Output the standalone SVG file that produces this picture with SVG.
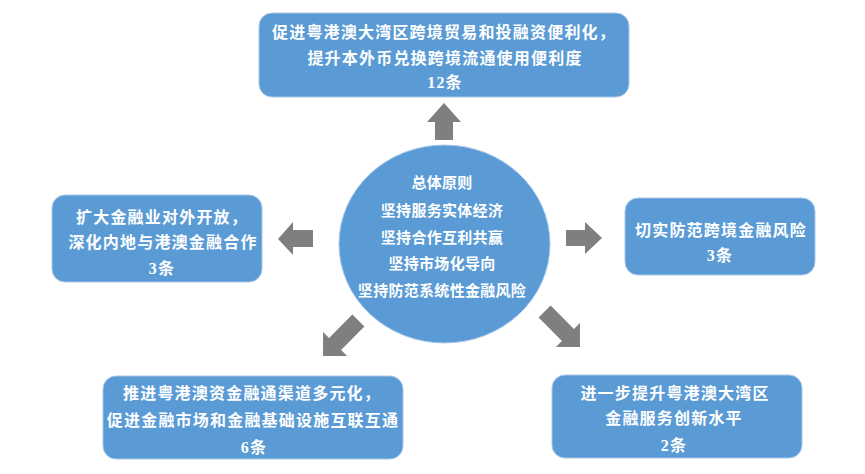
<svg xmlns="http://www.w3.org/2000/svg" width="865" height="474" viewBox="0 0 865 474">
<style>
.box{fill:#5b9bd5;stroke:#a9c8ea;stroke-width:1}
.arrow{fill:#7f7f7f}
.t{fill:#ffffff;font-family:"Liberation Serif","Noto Sans CJK SC",serif;font-weight:bold;font-size:16px;letter-spacing:1.2px;text-anchor:middle}
.c{font-size:15px;letter-spacing:0.3px}
</style>
<rect width="865" height="474" fill="#ffffff"/>
<g id="connectors">
<polygon class="arrow" points="444,103 461,122 453,122 453,140 435,140 435,122 427,122"/>
<polygon class="arrow" points="278,239 293,222 293,230 313,230 313,247 293,247 293,255"/>
<polygon class="arrow" points="602,238 585,222 585,230 566,230 566,246 585,246 585,254"/>
<polygon class="arrow" transform="translate(358.4,320.6) rotate(135)" points="0,-8.5 33,-8.5 33,-17 50,0 33,17 33,8.5 0,8.5"/>
<polygon class="arrow" transform="translate(544.6,311.6) rotate(45)" points="0,-8.5 33,-8.5 33,-17 50,0 33,17 33,8.5 0,8.5"/>
</g>
<g id="center">
<ellipse cx="444.5" cy="244" rx="105.5" ry="99" fill="#5b9bd5" stroke="#a9c8ea" stroke-width="1"/>
<text class="t c" x="442" y="187.5">总体原则</text>
<text class="t c" x="442" y="215.5">坚持服务实体经济</text>
<text class="t c" x="442" y="242.5">坚持合作互利共赢</text>
<text class="t c" x="442" y="268.5">坚持市场化导向</text>
<text class="t c" x="442" y="295.5">坚持防范系统性金融风险</text>
</g>
<g id="top">
<rect class="box" x="259" y="13" width="370" height="84" rx="13"/>
<text class="t" x="444" y="38">促进粤港澳大湾区跨境贸易和投融资便利化，</text>
<text class="t" x="445" y="64">提升本外币兑换跨境流通使用便利度</text>
<text class="t" x="445" y="88">12条</text>
</g>
<g id="left">
<rect class="box" x="52" y="195" width="210" height="87" rx="13"/>
<text class="t" x="162" y="223">扩大金融业对外开放，</text>
<text class="t" x="163" y="248">深化内地与港澳金融合作</text>
<text class="t" x="162" y="274">3条</text>
</g>
<g id="right">
<rect class="box" x="625" y="198" width="190" height="77" rx="13"/>
<text class="t" x="721" y="236">切实防范跨境金融风险</text>
<text class="t" x="720" y="261">3条</text>
</g>
<g id="bottom-left">
<rect class="box" x="103" y="376" width="300" height="83" rx="13"/>
<text class="t" x="252" y="399">推进粤港澳资金融通渠道多元化，</text>
<text class="t" x="253" y="426">促进金融市场和金融基础设施互联互通</text>
<text class="t" x="254" y="453">6条</text>
</g>
<g id="bottom-right">
<rect class="box" x="552" y="375" width="250" height="83" rx="13"/>
<text class="t" x="675" y="399">进一步提升粤港澳大湾区</text>
<text class="t" x="674" y="424">金融服务创新水平</text>
<text class="t" x="674" y="451">2条</text>
</g>
</svg>
